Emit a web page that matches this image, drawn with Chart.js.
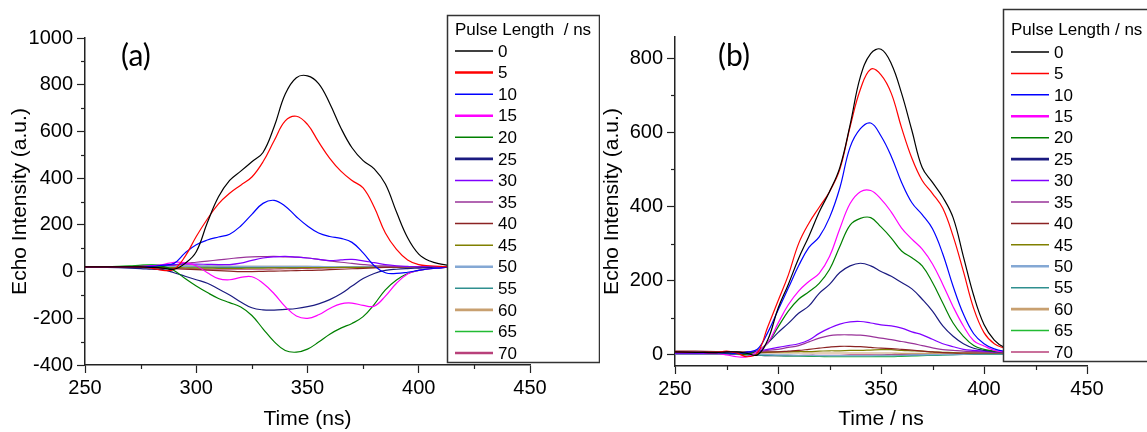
<!DOCTYPE html>
<html>
<head>
<meta charset="utf-8">
<script src="https://cdn.jsdelivr.net/npm/chart.js"></script>
<style>
  body { margin: 0; background: #fff; }
  #wrap { position: relative; width: 1147px; height: 432px; overflow: hidden; }
  #chartA { position: absolute; left: 0; top: 0; }
  #chartB { position: absolute; left: 600px; top: 0; }
</style>
</head>
<body>
<div id="wrap">
  <canvas id="chartA" width="600" height="432"></canvas>
  <canvas id="chartB" width="547" height="432"></canvas>
</div>
<script>
// time axis (ns), shared by both panels
const TIME = [250,260,270,275,280,285,290,295,300,305,310,315,320,325,330,335,340,345,350,355,360,365,370,375,380,385,390,395,400,405,410,415,430,450];
const X_TICKS = [250,300,350,400,450];
const Y_TICKS_A = [-400,-200,0,200,400,600,800,1000];
const Y_TICKS_B = [0,200,400,600,800];

// legend labels (pulse length / ns)
const PULSE = ['0','5','10','15','20','25','30','35','40','45','50','55','60','65','70'];
const COLORS = ['#000000','#FF0000','#0000FF','#FF00FF','#008000','#1A1A80','#8000FF','#993399','#8B2323','#808000','#84A8D4','#2F8F8F','#C8A070','#22BB33','#B8407A'];

// panel (a) echo intensity
const A_0  = [20,20,20,20,18,15,10,35,85,210,320,390,430,470,510,620,760,830,838,805,720,615,530,475,440,375,255,145,75,45,32,25,20,20];
const A_5  = [20,20,20,20,15,5,10,65,150,225,290,335,370,405,470,560,645,665,630,555,485,430,390,358,275,165,95,50,30,25,22,20,20,20];
const A_10 = [20,20,20,20,22,28,35,80,115,135,148,160,195,245,292,305,280,235,195,165,150,142,125,80,25,-5,-8,-3,5,12,16,20,20,20];
const A_15 = [20,20,20,22,25,30,40,38,25,-5,-30,-35,-25,-22,-50,-95,-150,-190,-200,-185,-158,-138,-135,-145,-148,-105,-50,-10,5,12,16,20,20,20];
const A_20 = [20,20,22,25,22,22,5,-30,-62,-90,-115,-133,-152,-188,-245,-300,-338,-345,-332,-302,-268,-242,-222,-193,-140,-78,-36,-8,5,12,16,20,20,20];
const A_25 = [20,18,15,13,10,8,-5,-20,-35,-50,-75,-100,-130,-155,-164,-165,-162,-158,-150,-138,-120,-95,-62,-30,-8,5,10,13,15,17,18,20,20,20];
const A_30 = [20,20,20,22,24,27,30,32,32,31,30,30,36,48,58,63,65,62,58,52,47,50,52,46,38,30,25,22,20,20,20,20,20,20];
const A_35 = [20,20,20,22,24,26,28,35,40,45,50,55,60,63,64,65,63,62,58,52,46,40,35,30,26,24,22,21,20,20,20,20,20,20];
const A_40 = [20,20,18,17,16,14,12,10,8,6,4,2,0,0,1,2,3,4,5,6,8,10,12,14,16,18,19,20,20,20,20,20,20,20];
const A_45 = [20,20,20,20,19,18,17,16,15,15,14,14,14,15,15,16,16,16,17,17,17,18,18,18,19,19,19,20,20,20,20,20,20,20];
const A_50 = [20,20,20,20,20,21,22,23,24,24,24,23,22,22,22,22,22,22,22,22,21,21,21,21,21,20,20,20,20,20,20,20,20,20];
const A_55 = [20,20,20,21,22,22,22,21,20,19,18,18,18,18,18,18,19,19,19,19,19,19,20,20,20,20,20,20,20,20,20,20,20,20];
const A_60 = [20,20,20,21,22,23,24,24,24,23,23,22,22,22,22,22,22,22,22,21,21,21,21,21,21,20,20,20,20,20,20,20,20,20];
const A_65 = [20,20,24,28,30,27,24,22,20,19,18,18,18,18,18,18,18,18,18,18,18,19,19,19,19,20,20,20,20,20,20,20,20,20];
const A_70 = [20,20,20,19,18,16,14,12,11,10,10,10,10,10,10,11,12,13,14,15,16,17,18,18,19,19,20,20,20,20,20,20,20,20];

// panel (b) echo intensity
const B_0  = [8,7,6,8,8,4,0,40,125,190,260,320,385,440,505,620,750,812,824,785,705,605,505,465,425,370,265,160,82,40,20,14,10,8];
const B_5  = [8,7,6,10,5,-5,5,75,145,215,300,355,398,440,500,615,716,770,755,705,612,530,470,435,395,320,225,125,60,30,18,12,8,8];
const B_10 = [5,5,5,5,4,8,15,60,120,180,240,290,318,370,450,560,610,625,590,535,465,410,378,340,272,185,110,57,30,16,10,8,6,6];
const B_15 = [3,3,3,0,-5,-5,10,32,85,135,172,198,220,265,340,408,440,443,420,385,342,312,285,245,190,130,78,38,24,12,8,5,4,4];
const B_20 = [5,5,4,4,3,2,10,32,75,118,150,170,193,230,292,350,368,370,345,315,280,262,240,195,140,86,50,25,15,10,7,5,4,4];
const B_25 = [8,7,5,4,3,5,10,32,60,85,112,132,166,190,222,240,247,240,225,212,195,178,150,118,78,50,30,18,12,9,8,6,5,5];
const B_30 = [5,5,4,4,3,5,10,15,20,25,30,40,58,72,83,89,90,86,81,78,72,62,54,42,30,22,15,12,10,8,8,6,5,5];
const B_35 = [5,5,5,5,5,6,8,12,15,20,25,35,45,52,54,54,53,50,45,41,36,31,25,19,14,12,10,9,8,7,6,6,5,5];
const B_40 = [10,10,9,8,8,8,8,8,8,10,12,15,18,21,23,23,22,20,18,17,15,13,10,8,6,5,5,5,5,5,5,5,5,5];
const B_45 = [5,5,5,5,6,6,7,7,8,8,9,9,10,11,11,12,12,13,14,14,12,11,10,8,7,6,5,5,5,5,5,5,5,5];
const B_50 = [3,3,3,3,2,2,2,1,0,0,-1,-1,-2,-2,-2,-2,-2,-2,-1,-1,-1,0,0,1,1,2,2,3,3,3,3,3,3,3];
const B_55 = [2,2,2,2,1,0,-1,-2,-2,-3,-3,-3,-3,-3,-3,-3,-3,-3,-3,-3,-2,-2,-1,-1,0,0,1,1,2,2,2,2,2,2];
const B_60 = [4,4,4,4,4,4,4,5,5,5,5,5,5,5,5,5,5,5,5,5,4,4,4,4,4,4,4,4,4,4,4,4,4,4];
const B_65 = [2,2,2,2,2,1,0,-1,-2,-3,-3,-4,-4,-5,-5,-5,-5,-5,-5,-5,-4,-3,-2,-1,0,1,2,2,2,2,2,2,2,2];
const B_70 = [4,4,4,3,2,0,-1,-2,-2,-2,-2,-1,-1,-1,-1,0,0,0,0,1,1,1,2,2,2,3,3,3,3,3,3,3,3,3];

const seriesA = [A_0,A_5,A_10,A_15,A_20,A_25,A_30,A_35,A_40,A_45,A_50,A_55,A_60,A_65,A_70];
const seriesB = [B_0,B_5,B_10,B_15,B_20,B_25,B_30,B_35,B_40,B_45,B_50,B_55,B_60,B_65,B_70];

const FONT = "'Liberation Sans', Arial, sans-serif";

function makeDatasets(series) {
  return series.map((vals, i) => ({
    label: PULSE[i],
    data: TIME.map((t, k) => ({ x: t, y: vals[k] })),
    borderColor: COLORS[i],
    borderWidth: 1.2,
    pointRadius: 0,
    fill: false,
    tension: 0.4
  }));
}

// minor ticks, legend box and panel letter
const decor = {
  id: 'decor',
  afterDraw(chart, args, o) {
    const ctx = chart.ctx;
    const xs = chart.scales.x, ys = chart.scales.y;
    ctx.save();
    ctx.strokeStyle = '#222';
    ctx.lineWidth = 1.2;
    // minor ticks between majors
    const xt = xs.ticks.map(t => t.value);
    for (let i = 0; i < xt.length - 1; i++) {
      const px = Math.round(xs.getPixelForValue((xt[i] + xt[i + 1]) / 2)) + 0.5;
      ctx.beginPath(); ctx.moveTo(px, xs.top); ctx.lineTo(px, xs.top + 4); ctx.stroke();
    }
    const yt = ys.ticks.map(t => t.value);
    for (let i = 0; i < yt.length - 1; i++) {
      const py = Math.round(ys.getPixelForValue((yt[i] + yt[i + 1]) / 2)) + 0.5;
      ctx.beginPath(); ctx.moveTo(ys.right, py); ctx.lineTo(ys.right - 4, py); ctx.stroke();
    }

    // legend box
    const b = o.box;
    ctx.fillStyle = '#fff';
    ctx.fillRect(b.x, b.y, b.w, b.h);
    ctx.strokeStyle = '#333';
    ctx.lineWidth = 1.5;
    ctx.strokeRect(b.x + 0.5, b.y + 0.5, b.w, b.h);
    ctx.fillStyle = '#000';
    ctx.font = '17px ' + FONT;
    ctx.textBaseline = 'middle';
    ctx.textAlign = 'left';
    ctx.fillText(o.title, o.lx, o.ty);
    chart.data.datasets.forEach((ds, i) => {
      const y = o.ry0 + i * o.rdy;
      ctx.strokeStyle = ds.borderColor;
      ctx.lineWidth = o.thick.includes(i) ? 2.6 : 1.5;
      ctx.beginPath(); ctx.moveTo(o.lx, y); ctx.lineTo(o.lx + 38, y); ctx.stroke();
      ctx.fillStyle = '#000';
      ctx.fillText(ds.label, o.lx + 43, y + 1);
    });

    // panel letter
    ctx.font = "30px Lato, 'Open Sans', sans-serif";
    ctx.fillStyle = '#000';
    ctx.fillText(o.letter, o.letterX, o.letterY);
    ctx.restore();
  }
};

function makeChart(id, series, cfg) {
  return new Chart(document.getElementById(id), {
    type: 'line',
    data: { datasets: makeDatasets(series) },
    options: {
      responsive: false,
      animation: false,
      events: [],
      layout: { padding: { top: cfg.top, right: cfg.right, left: 0, bottom: 0 } },
      plugins: { legend: { display: false }, tooltip: { enabled: false }, decor: cfg.decor },
      scales: {
        x: {
          type: 'linear', min: 250, max: 450,
          ticks: { color: '#000', font: { family: FONT, size: 20 }, padding: 3, maxRotation: 0, callback: v => String(v) },
          afterBuildTicks: s => { s.ticks = X_TICKS.map(v => ({ value: v })); },
          grid: { drawOnChartArea: false, tickLength: 8, tickColor: '#222', tickWidth: 1.2 },
          border: { color: '#222', width: 1.5 },
          title: { display: true, text: cfg.xTitle, color: '#000', font: { family: FONT, size: 21 }, padding: { top: 0, bottom: 0 } },
          afterFit: s => { s.height = cfg.xh; }
        },
        y: {
          min: cfg.ymin, max: cfg.ymax,
          ticks: { color: '#000', font: { family: FONT, size: 20 }, padding: 4, callback: v => String(v) },
          afterBuildTicks: s => { s.ticks = cfg.yTicks.map(v => ({ value: v })); },
          grid: { drawOnChartArea: false, tickLength: 8, tickColor: '#222', tickWidth: 1.2 },
          border: { color: '#222', width: 1.5 },
          title: { display: true, text: 'Echo Intensity (a.u.)', color: '#000', font: { family: FONT, size: 21 }, padding: { top: cfg.ytPad, bottom: 0 } },
          afterFit: s => { s.width = cfg.yw; }
        }
      }
    },
    plugins: [decor]
  });
}

makeChart('chartA', seriesA, {
  top: 38, right: 70, xh: 67, yw: 85, ymin: -400, ymax: 1000, ytPad: 8, yTicks: Y_TICKS_A,
  xTitle: 'Time (ns)',
  decor: {
    box: { x: 447, y: 15, w: 152, h: 347 },
    title: 'Pulse Length  / ns', lx: 455, ty: 30, ry0: 51, rdy: 21.57,
    thick: [1, 3, 5, 10, 12, 14],
    letter: '(a)', letterX: 121, letterY: 56
  }
});

makeChart('chartB', seriesB, {
  top: 37, right: 60, xh: 66, yw: 75, ymin: -30, ymax: 857, ytPad: 0, yTicks: Y_TICKS_B,
  xTitle: 'Time / ns',
  decor: {
    box: { x: 403, y: 9, w: 200, h: 352 },
    title: 'Pulse Length / ns', lx: 411, ty: 30, ry0: 52, rdy: 21.43,
    thick: [3, 5, 10, 12],
    letter: '(b)', letterX: 118, letterY: 56
  }
});
</script>
</body>
</html>
